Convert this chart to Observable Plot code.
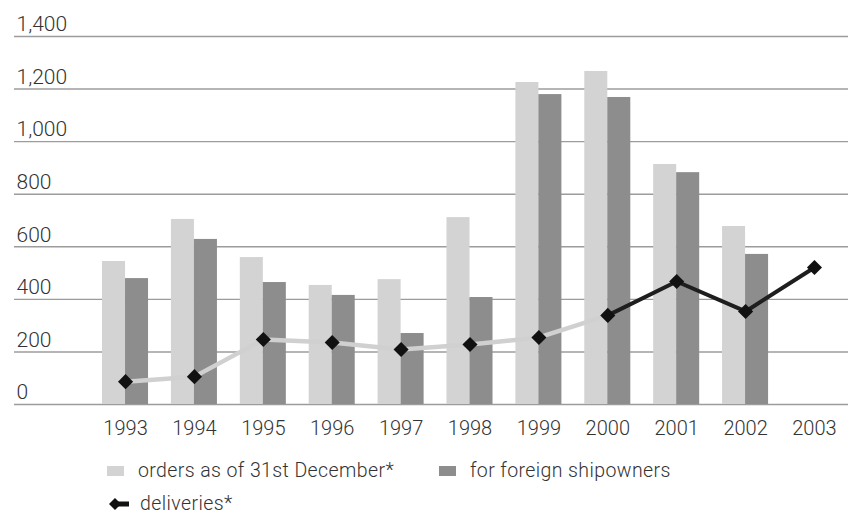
<!DOCTYPE html>
<html>
<head>
<meta charset="utf-8">
<script src="https://cdn.jsdelivr.net/npm/d3@7"></script>
<script src="https://cdn.jsdelivr.net/npm/@observablehq/plot@0.6"></script>
<style>
  html, body { margin: 0; padding: 0; background: #fff; }
  #chart { position: relative; width: 848px; height: 515px; font-family: Roboto, "Liberation Sans", sans-serif; font-weight: 300; color: #333; }
  #chart svg { display: block; }
  .legend { position: absolute; left: 0; top: 0; width: 848px; height: 515px; pointer-events: none; }
  .item { position: absolute; display: flex; align-items: center; font-size: 19.5px; letter-spacing: 0.4px; white-space: nowrap; }
  .sw { display: inline-block; width: 17px; height: 10px; margin-right: 14px; }
</style>
</head>
<body>
<div id="chart"></div>
<script>
// Years on the horizontal axis
const years = ["1993", "1994", "1995", "1996", "1997", "1998", "1999", "2000", "2001", "2002", "2003"];
// Order book as of 31st December
const orders = [544, 704, 559, 453, 475, 711, 1225, 1267, 913, 677, null];
// Share of the order book for foreign shipowners
const foreign = [479, 628, 464, 415, 270, 407, 1179, 1168, 882, 571, null];
// Deliveries during the year
const deliveries = [87, 106, 247, 236, 209, 228, 255, 339, 468, 354, 521];
// Gridline values on the vertical axis
const yTicks = [0, 200, 400, 600, 800, 1000, 1200, 1400];
// The deliveries line is drawn dark from this year on
const darkFrom = "2000";

const seriesNames = ["orders as of 31st December*", "for foreign shipowners", "deliveries*"];
const lightFill = "#d3d3d3";
const darkFill = "#8d8d8d";

const table = years.map((year, i) => ({year, orders: orders[i], foreign: foreign[i], deliveries: deliveries[i]}));
const cut = years.indexOf(darkFrom);
const lightPart = table.slice(0, cut + 1);
const darkPart = table.slice(cut);

const half = 23; // half of a year's band width in pixels

const svg = Plot.plot({
  width: 848,
  height: 455,
  marginLeft: 14,
  marginRight: 0,
  marginTop: 20,
  marginBottom: 51,
  style: {fontFamily: "Roboto, 'Liberation Sans', sans-serif", fontWeight: 300, fontSize: "20px", color: "#333", background: "#fff"},
  x: {domain: years, range: [91, 848], paddingInner: 0.332, paddingOuter: 0.16, round: false, label: null},
  y: {domain: [0, 1400], range: [404, 36], label: null},
  marks: [
    Plot.ruleY(yTicks, {stroke: "#9c9c9c", strokeWidth: 1.4}),
    Plot.barY(table.filter(d => d.orders != null), {x: "year", y: "orders", fill: lightFill, insetRight: half, insetLeft: 0}),
    Plot.barY(table.filter(d => d.foreign != null), {x: "year", y: "foreign", fill: darkFill, insetLeft: half, insetRight: 0}),
    Plot.line(lightPart, {x: "year", y: "deliveries", stroke: "#d0d0d0", strokeWidth: 4.5}),
    Plot.line(darkPart, {x: "year", y: "deliveries", stroke: "#1e1e1e", strokeWidth: 4}),
    Plot.dot(table, {x: "year", y: "deliveries", symbol: "diamond2", r: 6.8, fill: "#111", stroke: null}),
    Plot.axisX({anchor: "bottom", tickSize: 0, tickPadding: 16, fontSize: 20, letterSpacing: "1px", label: null}),
    Plot.axisY(yTicks, {anchor: "left", tickSize: 0, tickPadding: 0, textAnchor: "start", dx: 2, dy: -12, fontSize: 21, tickFormat: d3.format(","), label: null})
  ]
});

const chart = document.getElementById("chart");
chart.appendChild(svg);

// Legend below the plot
const legend = document.createElement("div");
legend.className = "legend";
legend.innerHTML = `
  <div class="item" style="left:107px; top:459px;"><span class="sw" style="background:${lightFill}"></span>${seriesNames[0]}</div>
  <div class="item" style="left:439px; top:459px;"><span class="sw" style="background:${darkFill}"></span>${seriesNames[1]}</div>
  <div class="item" style="left:108px; top:492px;">
    <svg width="22" height="14" style="margin-right:10px" viewBox="0 0 22 14">
      <rect x="6" y="4.5" width="15" height="5" fill="#111"></rect>
      <path d="M1 7 L7 1 L13 7 L7 13 Z" fill="#111"></path>
    </svg>${seriesNames[2]}</div>`;
chart.appendChild(legend);
</script>
</body>
</html>
